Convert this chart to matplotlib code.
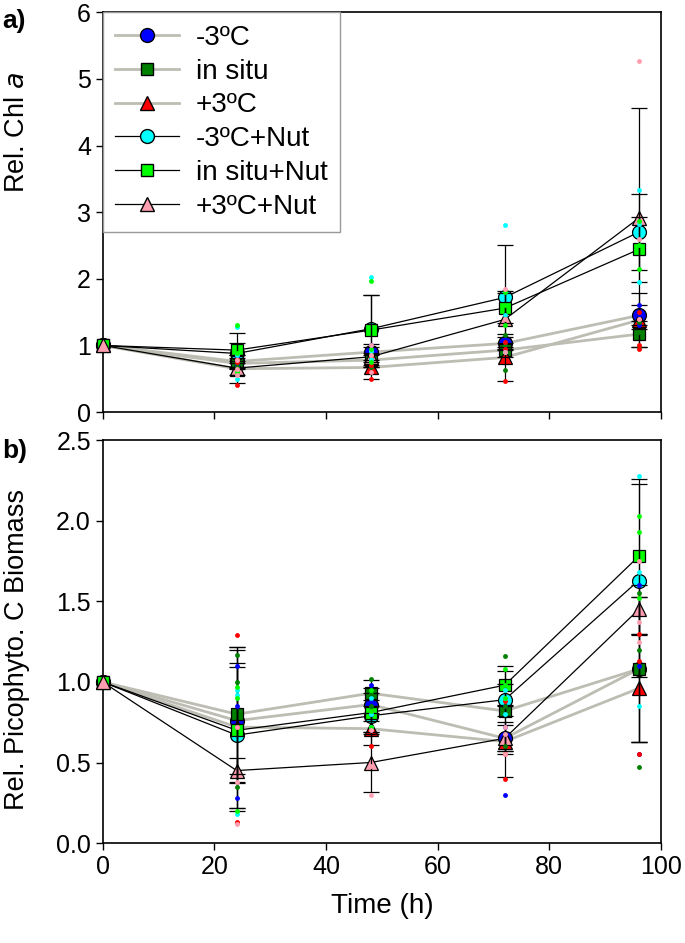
import numpy as np
import matplotlib
matplotlib.use("Agg")
import matplotlib.pyplot as plt
from matplotlib.lines import Line2D

plt.rcParams['font.family'] = ['Liberation Sans', 'DejaVu Sans']

# sampling times (h)
time = [0, 24, 48, 72, 96]
rep_time = [24, 48, 72, 96]

labels = ['-3ºC', 'in situ', '+3ºC', '-3ºC+Nut', 'in situ+Nut', '+3ºC+Nut']
colors = ['#0000ff', '#008000', '#ff0000', '#00ffff', '#00ff00', '#ff9eb0']
markers = ['o', 's', '^', 'o', 's', '^']
line_cols = ['#bdbdb3', '#bdbdb3', '#bdbdb3', 'black', 'black', 'black']

# ---- panel a: Rel. Chl a ----
chl_mean = [
    [1, 0.76, 0.90, 1.03, 1.45],
    [1, 0.73, 0.78, 0.93, 1.17],
    [1, 0.65, 0.67, 0.82, 1.38],
    [1, 0.88, 1.25, 1.72, 2.70],
    [1, 0.93, 1.23, 1.56, 2.44],
    [1, 0.66, 0.83, 1.39, 2.91],
]
chl_sd = [
    [0, 0.10, 0.12, 0.10, 0.15],
    [0, 0.08, 0.10, 0.10, 0.20],
    [0, 0.21, 0.18, 0.35, 0.40],
    [0, 0.15, 0.50, 0.78, 0.57],
    [0, 0.25, 0.52, 0.22, 0.49],
    [0, 0.10, 0.15, 0.42, 1.66],
]
chl_reps = [
    [[0.70, 0.78, 0.82], [0.80, 0.90, 1.00], [0.95, 1.05, 1.10], [1.30, 1.45, 1.60]],
    [[0.68, 0.73, 0.80], [0.68, 0.80, 0.88], [0.63, 1.00, 1.15], [0.97, 1.20, 1.35]],
    [[0.40, 0.75, 0.80], [0.50, 0.70, 0.82], [0.47, 0.95, 1.05], [0.95, 1.00, 1.50]],
    [[0.50, 0.85, 1.27], [0.80, 0.92, 2.03], [0.90, 1.45, 2.81], [1.95, 2.82, 3.34]],
    [[0.60, 0.88, 1.31], [0.75, 0.95, 1.96], [1.30, 1.60, 1.80], [2.15, 2.50, 2.87]],
    [[0.55, 0.65, 0.78], [0.60, 0.85, 1.00], [0.90, 1.40, 1.85], [1.40, 2.60, 5.27]],
]

# ---- panel b: Rel. Picophyto. C Biomass ----
pico_mean = [
    [1, 0.76, 0.86, 0.65, 1.08],
    [1, 0.80, 0.93, 0.82, 1.08],
    [1, 0.72, 0.71, 0.63, 0.96],
    [1, 0.67, 0.79, 0.89, 1.63],
    [1, 0.70, 0.81, 0.98, 1.78],
    [1, 0.45, 0.50, 0.65, 1.45],
]
pico_sd = [
    [0, 0.33, 0.10, 0.08, 0.45],
    [0, 0.42, 0.08, 0.25, 0.45],
    [0, 0.50, 0.10, 0.22, 0.33],
    [0, 0.45, 0.10, 0.10, 0.60],
    [0, 0.50, 0.12, 0.12, 0.48],
    [0, 0.08, 0.18, 0.10, 0.15],
]
pico_reps = [
    [[0.28, 0.85, 1.10], [0.80, 0.88, 0.98], [0.30, 0.72, 0.85], [0.55, 1.10, 1.60]],
    [[0.35, 1.00, 1.17], [0.85, 0.93, 1.02], [0.60, 0.85, 1.16], [0.47, 1.20, 1.55]],
    [[0.13, 0.72, 1.29], [0.60, 0.72, 0.82], [0.40, 0.55, 0.88], [0.55, 1.13, 1.30]],
    [[0.18, 0.92, 0.95], [0.72, 0.80, 0.90], [0.80, 0.90, 0.95], [0.85, 1.68, 2.28]],
    [[0.20, 0.90, 0.97], [0.72, 0.82, 0.95], [0.90, 0.98, 1.08], [1.52, 1.93, 2.03]],
    [[0.12, 0.38, 0.72], [0.30, 0.48, 0.70], [0.55, 0.68, 0.72], [1.25, 1.37, 1.75]],
]

msize = [10, 9, 10, 10, 9, 10]


def draw_panel(ax, means, sds, reps):
    for i in range(6):
        lw = 2.0 if line_cols[i] != 'black' else 0.9
        ax.plot(time, means[i], color=line_cols[i], lw=lw, zorder=2)
    for i in range(6):
        ax.plot(time, means[i], linestyle='none', marker=markers[i], ms=msize[i],
                mfc=colors[i], mec='black', mew=0.9, zorder=3, clip_on=False)
        ax.errorbar(time[1:], means[i][1:], yerr=sds[i][1:], fmt='none',
                    ecolor='black', elinewidth=0.9, capsize=6, capthick=0.9,
                    zorder=4)
    for i in range(6):
        for j, t in enumerate(rep_time):
            ax.plot([t] * len(reps[i][j]), reps[i][j], linestyle='none',
                    marker='o', ms=3.5, mfc=colors[i], mec='none', zorder=5)
    ax.set_xlim(0, 100)
    ax.set_xticks([0, 20, 40, 60, 80, 100])
    ax.tick_params(direction='out', length=5, width=1, labelsize=18,
                   top=False, right=False)
    for s in ax.spines.values():
        s.set_linewidth(1.2)


fig = plt.figure(figsize=(6.85, 9.43), dpi=100)
ax1 = fig.add_axes([0.150, 0.563, 0.815, 0.424])
ax2 = fig.add_axes([0.150, 0.106, 0.815, 0.427])

draw_panel(ax1, chl_mean, chl_sd, chl_reps)
ax1.set_ylim(0, 6)
ax1.set_yticks(range(7))
ax1.set_xticklabels([])
ax1.set_ylabel('Rel. Chl $\\it{a}$', fontsize=19.5)
ax1.yaxis.set_label_coords(-0.13, 0.70)

handles = [Line2D([0], [0], color=line_cols[i],
                  lw=2.0 if line_cols[i] != 'black' else 0.9,
                  marker=markers[i], ms=msize[i], mfc=colors[i], mec='black')
           for i in range(6)]
leg = ax1.legend(handles, labels, loc='upper left', fontsize=20,
                 borderaxespad=0, handlelength=2.3, handletextpad=0.6,
                 labelspacing=0.28, fancybox=False, framealpha=1,
                 borderpad=0.45)
leg.get_frame().set_edgecolor('#999999')
leg.get_frame().set_linewidth(1.0)
leg.set_zorder(10)

draw_panel(ax2, pico_mean, pico_sd, pico_reps)
ax2.set_ylim(0, 2.5)
ax2.set_yticks([0, 0.5, 1.0, 1.5, 2.0, 2.5])
ax2.set_yticklabels(['0.0', '0.5', '1.0', '1.5', '2.0', '2.5'])
ax2.set_ylabel('Rel. Picophyto. C Biomass', fontsize=19.5)
ax2.yaxis.set_label_coords(-0.13, 0.48)
ax2.set_xlabel('Time (h)', fontsize=20, labelpad=10)

fig.text(0.003, 0.99, 'a)', fontsize=19, fontweight='bold', va='top')
fig.text(0.003, 0.534, 'b)', fontsize=19, fontweight='bold', va='top')

fig.savefig('out.png', dpi=100)
